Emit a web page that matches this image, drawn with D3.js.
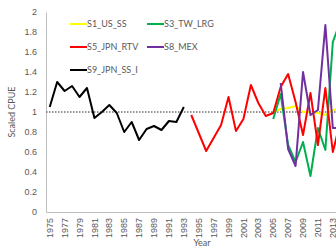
<!DOCTYPE html>
<html>
<head>
<meta charset="utf-8">
<script src="https://cdn.jsdelivr.net/npm/d3@7"></script>
<style>
  body { margin: 0; background: #fff; }
  .main { width: 336px; height: 248px; overflow: hidden; }
</style>
</head>
<body>
<div class="main"></div>
<script>
// categories
const years = d3.range(1975, 2015)
const yTicks = [0, 0.2, 0.4, 0.6, 0.8, 1, 1.2, 1.4, 1.6, 1.8, 2]

// series values (first year given per series)
const s1_US_SS_start = 2005
const s1_US_SS = [1.00, 1.03, 1.04, 1.06, 1.00, 1.00, 0.99, 0.97, 1.02, 1.03]
const s3_TW_LRG_start = 2005
const s3_TW_LRG = [0.93, 1.18, 0.67, 0.50, 0.70, 0.36, 0.84, 0.62, 1.70, 1.90]
const s5_JPN_RTV_start = 1994
const s5_JPN_RTV = [0.97, 0.79, 0.61, 0.74, 0.87, 1.15, 0.81, 0.93, 1.27, 1.09, 0.96, 0.99,
    1.25, 1.38, 1.10, 0.77, 1.19, 0.67, 1.24, 0.60, 0.90]
const s8_MEX_start = 2006
const s8_MEX = [1.29, 0.63, 0.46, 1.40, 0.97, 1.02, 1.87, 0.84, 0.84]
const s9_JPN_SS_I_start = 1975
const s9_JPN_SS_I = [1.05, 1.30, 1.21, 1.26, 1.15, 1.24, 0.94, 1.00, 1.07, 0.99, 0.80, 0.90,
    0.72, 0.83, 0.86, 0.82, 0.91, 0.90, 1.05]

const series = [
    { name: "S1_US_SS", start: s1_US_SS_start, values: s1_US_SS, color: "#FFFF00" },
    { name: "S3_TW_LRG", start: s3_TW_LRG_start, values: s3_TW_LRG, color: "#00B050" },
    { name: "S5_JPN_RTV", start: s5_JPN_RTV_start, values: s5_JPN_RTV, color: "#FF0000" },
    { name: "S8_MEX", start: s8_MEX_start, values: s8_MEX, color: "#7030A0" },
    { name: "S9_JPN_SS_I", start: s9_JPN_SS_I_start, values: s9_JPN_SS_I, color: "#000000" }
]

const W = 336, H = 248
const plot = { left: 46, top: 12, bottom: 212 }
const band = 7.45

const svg = d3.select(".main")
    .append("svg")
    .attr("width", W)
    .attr("height", H)
    .style("font-family", "Lato, 'Open Sans', sans-serif")

const x = d3.scaleBand()
    .domain(years)
    .range([plot.left, plot.left + years.length * band])
    .padding(0)

const y = d3.scaleLinear()
    .domain([0, 2])
    .range([plot.bottom, plot.top])

const cx = yr => x(yr) + x.bandwidth() / 2

// y axis
const yAxis = svg.append("g")
    .attr("transform", `translate(${plot.left}, 0)`)
    .call(d3.axisLeft(y).tickValues(yTicks).tickSize(0).tickPadding(9)
        .tickFormat(d => d3.format("~g")(d)))
yAxis.select(".domain").attr("stroke", "#BFBFBF")
yAxis.selectAll("text").attr("fill", "#595959").attr("font-size", 9)

// x axis
const xAxis = svg.append("g")
    .attr("transform", `translate(0, ${plot.bottom})`)
    .call(d3.axisBottom(x).tickValues(years.filter(d => (d - 1975) % 2 === 0)).tickSize(0))
xAxis.select(".domain").attr("stroke", "#BFBFBF")
xAxis.selectAll("text")
    .attr("fill", "#595959")
    .attr("font-size", 9)
    .attr("text-anchor", "end")
    .attr("transform", "rotate(-90)")
    .attr("x", -6)
    .attr("y", 0)
    .attr("dy", "0.35em")

// axis titles
svg.append("text")
    .attr("transform", `translate(15, ${(plot.top + plot.bottom) / 2}) rotate(-90)`)
    .attr("text-anchor", "middle")
    .attr("font-size", 9)
    .attr("fill", "#595959")
    .text("Scaled CPUE")

svg.append("text")
    .attr("x", 202)
    .attr("y", 246)
    .attr("text-anchor", "middle")
    .attr("font-size", 9)
    .attr("fill", "#595959")
    .text("Year")

// reference line at 1
svg.append("line")
    .attr("x1", plot.left)
    .attr("x2", W)
    .attr("y1", y(1))
    .attr("y2", y(1))
    .attr("stroke", "#6f6f6f")
    .attr("stroke-width", 1.5)
    .attr("stroke-dasharray", "1.5,1.5")

const line = d3.line()
    .x(d => cx(d.year))
    .y(d => y(d.value))

svg.selectAll(".series")
    .data(series)
    .join("path")
    .attr("class", "series")
    .attr("d", s => line(s.values.map((v, i) => ({ year: s.start + i, value: v }))))
    .attr("fill", "none")
    .attr("stroke", s => s.color)
    .attr("stroke-width", 2)
    .attr("stroke-linejoin", "round")

// legend, two columns
const legend = svg.selectAll(".legend")
    .data(series)
    .join("g")
    .attr("class", "legend")
    .attr("transform", (d, i) => `translate(${i % 2 === 0 ? 70 : 147}, ${24 + Math.floor(i / 2) * 23})`)

legend.append("line")
    .attr("x1", 0).attr("x2", 17)
    .attr("stroke", d => d.color)
    .attr("stroke-width", 2)

legend.append("text")
    .attr("x", 17)
    .attr("dy", "0.35em")
    .attr("font-size", 9)
    .attr("fill", "#595959")
    .text(d => d.name)
</script>
</body>
</html>
